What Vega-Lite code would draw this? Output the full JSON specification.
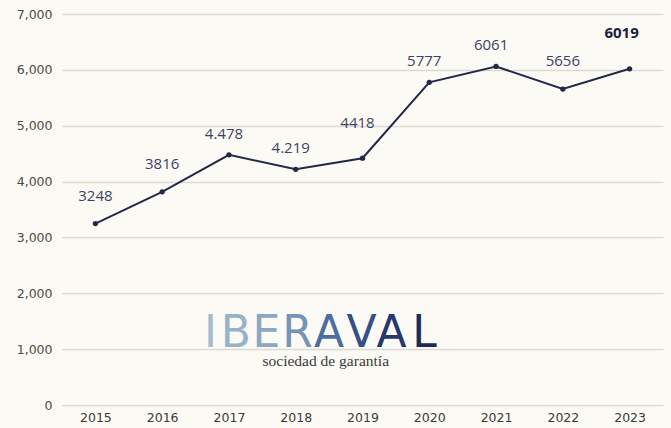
{
  "$schema": "https://vega.github.io/schema/vega-lite/v6.json",
  "width": 601,
  "height": 391,
  "autosize": "none",
  "padding": {"left": 62, "top": 14, "right": 8, "bottom": 23},
  "background": "#fcfaf4",
  "config": {
    "view": {"stroke": null},
    "font": "Lato"
  },
  "datasets": {
    "series": [
      {"year": 2015, "value": 3248, "label": "3248"},
      {"year": 2016, "value": 3816, "label": "3816"},
      {"year": 2017, "value": 4478, "label": "4.478"},
      {"year": 2018, "value": 4219, "label": "4.219"},
      {"year": 2019, "value": 4418, "label": "4418"},
      {"year": 2020, "value": 5777, "label": "5777"},
      {"year": 2021, "value": 6061, "label": "6061"},
      {"year": 2022, "value": 5656, "label": "5656"},
      {"year": 2023, "value": 6019, "label": "6019"}
    ],
    "logo": [
      {"pos": 2016.724, "v": 1038, "ch": "I", "k": "1"},
      {"pos": 2017.105, "v": 1038, "ch": "B", "k": "2"},
      {"pos": 2017.562, "v": 1038, "ch": "E", "k": "3"},
      {"pos": 2018.026, "v": 1038, "ch": "R", "k": "4"},
      {"pos": 2018.498, "v": 1038, "ch": "A", "k": "5"},
      {"pos": 2018.985, "v": 1038, "ch": "V", "k": "6"},
      {"pos": 2019.434, "v": 1038, "ch": "A", "k": "7"},
      {"pos": 2019.930, "v": 1038, "ch": "L", "k": "8"}
    ],
    "tag": [
      {"pos": 2018.45, "v": 690, "t": "sociedad de garantía"}
    ]
  },
  "layer": [
    {
      "data": {"name": "series"},
      "mark": {"type": "line", "color": "#242949", "strokeWidth": 2},
      "encoding": {
        "x": {
          "field": "year", "type": "quantitative",
          "scale": {"domain": [2014.5, 2023.5], "nice": false, "zero": false},
          "axis": {
            "values": [2015, 2016, 2017, 2018, 2019, 2020, 2021, 2022, 2023],
            "format": "d", "title": null, "grid": false, "domain": false, "ticks": false,
            "labelFontSize": 12.5, "labelColor": "#3a3a3a", "labelPadding": 6, "labelFont": "DejaVu Sans"
          }
        },
        "y": {
          "field": "value", "type": "quantitative",
          "scale": {"domain": [0, 7000], "nice": false},
          "axis": {
            "values": [0, 1000, 2000, 3000, 4000, 5000, 6000, 7000],
            "format": ",d", "title": null, "domain": false, "ticks": false,
            "gridColor": "#dcdad2", "gridWidth": 1.5,
            "labelFontSize": 12.5, "labelColor": "#4a4a4a", "labelPadding": 10, "labelFont": "DejaVu Sans"
          }
        }
      }
    },
    {
      "data": {"name": "series"},
      "mark": {"type": "point", "filled": true, "color": "#242949", "size": 28, "opacity": 1},
      "encoding": {
        "x": {"field": "year", "type": "quantitative"},
        "y": {"field": "value", "type": "quantitative"}
      }
    },
    {
      "data": {"name": "series"},
      "transform": [{"filter": "datum.year == 2015 || datum.year == 2016 || datum.year == 2022"}],
      "mark": {"type": "text", "dy": -28, "fontSize": 15, "color": "#3d4266", "font": "Open Sans"},
      "encoding": {
        "x": {"field": "year", "type": "quantitative"},
        "y": {"field": "value", "type": "quantitative"},
        "text": {"field": "label"}
      }
    },
    {
      "data": {"name": "series"},
      "transform": [{"filter": "datum.year == 2017 || datum.year == 2018 || datum.year == 2020 || datum.year == 2021"}],
      "mark": {"type": "text", "dy": -21, "dx": -5, "fontSize": 15, "color": "#3d4266", "font": "Open Sans"},
      "encoding": {
        "x": {"field": "year", "type": "quantitative"},
        "y": {"field": "value", "type": "quantitative"},
        "text": {"field": "label"}
      }
    },
    {
      "data": {"name": "series"},
      "transform": [{"filter": "datum.year == 2019"}],
      "mark": {"type": "text", "dy": -35, "dx": -5, "fontSize": 15, "color": "#3d4266", "font": "Open Sans"},
      "encoding": {
        "x": {"field": "year", "type": "quantitative"},
        "y": {"field": "value", "type": "quantitative"},
        "text": {"field": "label"}
      }
    },
    {
      "data": {"name": "series"},
      "transform": [{"filter": "datum.year == 2023"}],
      "mark": {"type": "text", "dy": -36, "dx": -8, "fontSize": 15, "fontWeight": "bold", "color": "#1c2040", "font": "Open Sans"},
      "encoding": {
        "x": {"field": "year", "type": "quantitative"},
        "y": {"field": "value", "type": "quantitative"},
        "text": {"field": "label"}
      }
    },
    {
      "data": {"name": "logo"},
      "mark": {"type": "text", "fontSize": 44, "baseline": "alphabetic", "align": "center", "font": "DejaVu Sans"},
      "encoding": {
        "x": {"field": "pos", "type": "quantitative"},
        "y": {"field": "v", "type": "quantitative"},
        "text": {"field": "ch"},
        "color": {
          "field": "k", "type": "nominal", "legend": null,
          "scale": {
            "domain": ["1", "2", "3", "4", "5", "6", "7", "8"],
            "range": ["#a3bccf", "#98b3c9", "#8aa8c2", "#7694b7", "#4d6da0", "#364f86", "#27386c", "#1e2a58"]
          }
        }
      }
    },
    {
      "data": {"name": "tag"},
      "mark": {"type": "text", "fontSize": 15.5, "baseline": "alphabetic", "align": "center", "font": "Liberation Serif", "color": "#3a3a3a"},
      "encoding": {
        "x": {"field": "pos", "type": "quantitative"},
        "y": {"field": "v", "type": "quantitative"},
        "text": {"field": "t"}
      }
    }
  ]
}
